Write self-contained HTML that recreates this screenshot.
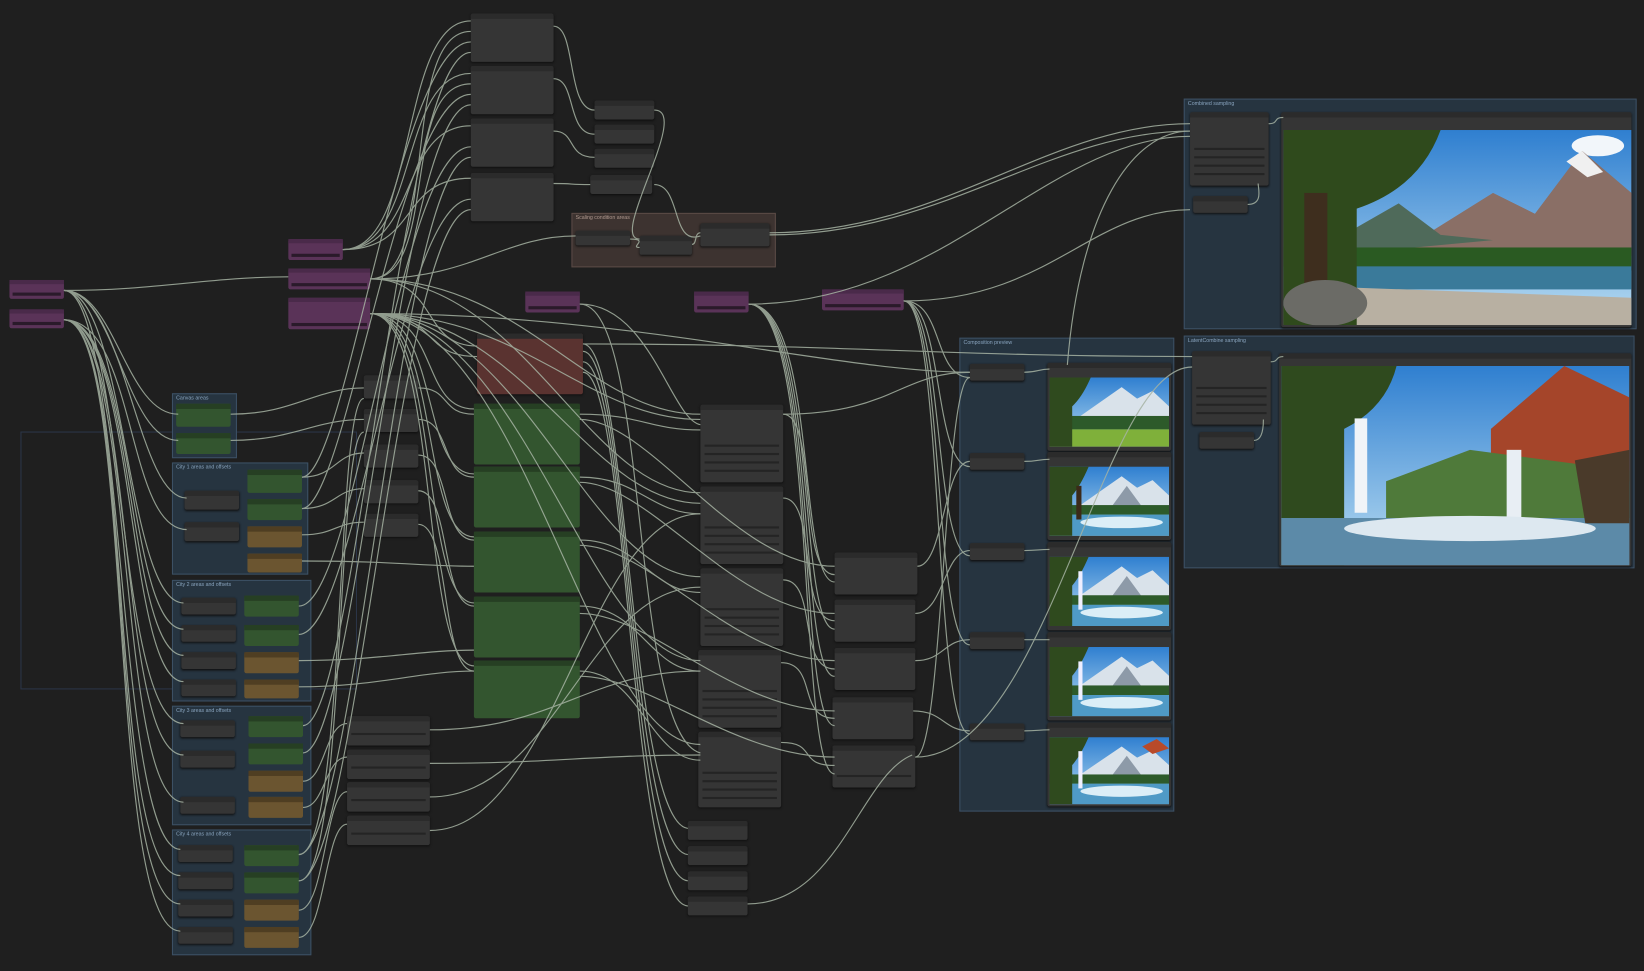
<!DOCTYPE html>
<html><head><meta charset="utf-8"><style>
html,body{margin:0;padding:0;background:#1f1f1f;overflow:hidden;width:1644px;height:971px}
#w{position:absolute;left:0;top:0;width:1568px;height:926px;transform:scale(1.04847,1.0486);transform-origin:0 0;font-family:"Liberation Sans",sans-serif}
.g{position:absolute;background:#263440;border:1px solid #3c5064;box-sizing:border-box}
.g span{position:absolute;left:3px;top:1px;font-size:5px;color:#8aa5bf}
.n{position:absolute;background:#353535;border-radius:2px;box-shadow:0 1px 2px #111}
.n:before{content:"";position:absolute;left:0;right:0;top:0;height:5px;background:#2b2b2b;border-radius:2px 2px 0 0}
.p{position:absolute;background:#5a3358;border-radius:2px}
.p:before{content:"";position:absolute;left:0;right:0;top:0;height:4px;background:#4a2a4a}
.p:after{content:"";position:absolute;left:3px;right:3px;bottom:3px;height:3px;background:#2a1a2a}
.gr{position:absolute;background:#33552f;border-radius:2px}
.gr:before{content:"";position:absolute;left:0;right:0;top:0;height:5px;background:#263f23}
.tn{position:absolute;background:#6b5530;border-radius:2px}
.tn:before{content:"";position:absolute;left:0;right:0;top:0;height:5px;background:#4f3e22}
.st{position:absolute;left:4px;right:4px;height:2px;background:#242424}
svg{position:absolute;left:0;top:0}
</style></head><body><div id="w">
<svg width="1568" height="926"><rect x="20" y="412" width="320" height="245" fill="none" stroke="#2b3548" stroke-width="1"/></svg>
<div class="g" style="left:1129px;top:94px;width:432px;height:220px"><span>Combined sampling</span></div>
<div class="g" style="left:1129px;top:320px;width:430px;height:222px"><span>LatentCombine sampling</span></div>
<div class="g" style="left:915px;top:322px;width:205px;height:452px"><span>Composition preview</span></div>
<div class="g" style="left:545px;top:203px;width:195px;height:52px;background:#3d3330;border-color:#5a4a45"><span style="color:#b09a90">Scaling condition areas</span></div>
<div class="g" style="left:164px;top:375px;width:62px;height:62px"><span>Canvas areas</span></div>
<div class="g" style="left:164px;top:441px;width:130px;height:107px"><span>City 1 areas and offsets</span></div>
<div class="g" style="left:164px;top:553px;width:133px;height:116px"><span>City 2 areas and offsets</span></div>
<div class="g" style="left:164px;top:673px;width:133px;height:114px"><span>City 3 areas and offsets</span></div>
<div class="g" style="left:164px;top:791px;width:133px;height:120px"><span>City 4 areas and offsets</span></div>

<div class="n" style="left:449px;top:13px;width:79px;height:46px"></div>
<div class="n" style="left:449px;top:63px;width:79px;height:46px"></div>
<div class="n" style="left:449px;top:113px;width:79px;height:46px"></div>
<div class="n" style="left:449px;top:165px;width:79px;height:46px"></div>
<div class="n" style="left:567px;top:96px;width:57px;height:18px"></div>
<div class="n" style="left:567px;top:119px;width:57px;height:18px"></div>
<div class="n" style="left:567px;top:142px;width:57px;height:18px"></div>
<div class="n" style="left:563px;top:167px;width:59px;height:18px"></div>
<div class="n" style="left:549px;top:220px;width:52px;height:14px"></div>
<div class="n" style="left:610px;top:225px;width:50px;height:18px"></div>
<div class="n" style="left:668px;top:213px;width:66px;height:22px"></div>

<div class="p" style="left:9px;top:267px;width:52px;height:18px"></div>
<div class="p" style="left:9px;top:295px;width:52px;height:18px"></div>
<div class="p" style="left:275px;top:228px;width:52px;height:20px"></div>
<div class="p" style="left:275px;top:256px;width:78px;height:20px"></div>
<div class="p" style="left:275px;top:284px;width:78px;height:30px"></div>
<div class="p" style="left:501px;top:278px;width:52px;height:20px"></div>
<div class="p" style="left:662px;top:278px;width:52px;height:20px"></div>
<div class="p" style="left:784px;top:276px;width:78px;height:20px"></div>

<div class="n" style="left:455px;top:318px;width:101px;height:58px;background:#5a3330"></div>
<div class="gr" style="left:452px;top:385px;width:101px;height:58px"></div>
<div class="gr" style="left:452px;top:445px;width:101px;height:58px"></div>
<div class="gr" style="left:452px;top:507px;width:101px;height:58px"></div>
<div class="gr" style="left:452px;top:569px;width:101px;height:58px"></div>
<div class="gr" style="left:452px;top:630px;width:101px;height:55px"></div>

<div class="n" style="left:347px;top:358px;width:52px;height:22px"></div>
<div class="n" style="left:347px;top:390px;width:52px;height:22px"></div>
<div class="n" style="left:347px;top:424px;width:52px;height:22px"></div>
<div class="n" style="left:347px;top:458px;width:52px;height:22px"></div>
<div class="n" style="left:347px;top:490px;width:52px;height:22px"></div>

<div class="n" style="left:331px;top:683px;width:79px;height:28px"><div class="st" style="top:16px"></div></div>
<div class="n" style="left:331px;top:715px;width:79px;height:28px"><div class="st" style="top:16px"></div></div>
<div class="n" style="left:331px;top:746px;width:79px;height:28px"><div class="st" style="top:16px"></div></div>
<div class="n" style="left:331px;top:778px;width:79px;height:28px"><div class="st" style="top:16px"></div></div>

<div class="n" style="left:668px;top:386px;width:79px;height:74px"><div class="st" style="top:38px"></div><div class="st" style="top:46px"></div><div class="st" style="top:54px"></div><div class="st" style="top:62px"></div></div>
<div class="n" style="left:668px;top:464px;width:79px;height:74px"><div class="st" style="top:38px"></div><div class="st" style="top:46px"></div><div class="st" style="top:54px"></div><div class="st" style="top:62px"></div></div>
<div class="n" style="left:668px;top:542px;width:79px;height:74px"><div class="st" style="top:38px"></div><div class="st" style="top:46px"></div><div class="st" style="top:54px"></div><div class="st" style="top:62px"></div></div>
<div class="n" style="left:666px;top:620px;width:79px;height:74px"><div class="st" style="top:38px"></div><div class="st" style="top:46px"></div><div class="st" style="top:54px"></div><div class="st" style="top:62px"></div></div>
<div class="n" style="left:666px;top:698px;width:79px;height:72px"><div class="st" style="top:38px"></div><div class="st" style="top:46px"></div><div class="st" style="top:54px"></div><div class="st" style="top:62px"></div></div>

<div class="n" style="left:796px;top:527px;width:79px;height:40px"></div>
<div class="n" style="left:796px;top:572px;width:77px;height:40px"></div>
<div class="n" style="left:796px;top:618px;width:77px;height:40px"></div>
<div class="n" style="left:794px;top:665px;width:77px;height:40px"></div>
<div class="n" style="left:794px;top:711px;width:79px;height:40px"><div class="st" style="top:28px"></div></div>

<div class="n" style="left:656px;top:783px;width:57px;height:18px"></div>
<div class="n" style="left:656px;top:807px;width:57px;height:18px"></div>
<div class="n" style="left:656px;top:831px;width:57px;height:18px"></div>
<div class="n" style="left:656px;top:855px;width:57px;height:18px"></div>

<div class="gr" style="left:168px;top:385px;width:52px;height:22px"></div>
<div class="gr" style="left:168px;top:413px;width:52px;height:20px"></div>
<div class="n" style="left:176px;top:468px;width:52px;height:18px"></div>
<div class="n" style="left:176px;top:498px;width:52px;height:18px"></div>
<div class="gr" style="left:236px;top:448px;width:52px;height:22px"></div>
<div class="gr" style="left:236px;top:476px;width:52px;height:20px"></div>
<div class="tn" style="left:236px;top:502px;width:52px;height:20px"></div>
<div class="tn" style="left:236px;top:528px;width:52px;height:18px"></div>
<div class="n" style="left:173px;top:570px;width:52px;height:16px"></div>
<div class="n" style="left:173px;top:596px;width:52px;height:16px"></div>
<div class="n" style="left:173px;top:622px;width:52px;height:16px"></div>
<div class="n" style="left:173px;top:648px;width:52px;height:16px"></div>
<div class="gr" style="left:233px;top:568px;width:52px;height:20px"></div>
<div class="gr" style="left:233px;top:596px;width:52px;height:20px"></div>
<div class="tn" style="left:233px;top:622px;width:52px;height:20px"></div>
<div class="tn" style="left:233px;top:648px;width:52px;height:18px"></div>
<div class="n" style="left:172px;top:687px;width:52px;height:16px"></div>
<div class="n" style="left:172px;top:716px;width:52px;height:16px"></div>
<div class="n" style="left:172px;top:760px;width:52px;height:16px"></div>
<div class="gr" style="left:237px;top:683px;width:52px;height:20px"></div>
<div class="gr" style="left:237px;top:709px;width:52px;height:20px"></div>
<div class="tn" style="left:237px;top:735px;width:52px;height:20px"></div>
<div class="tn" style="left:237px;top:760px;width:52px;height:20px"></div>
<div class="n" style="left:170px;top:806px;width:52px;height:16px"></div>
<div class="n" style="left:170px;top:832px;width:52px;height:16px"></div>
<div class="n" style="left:170px;top:858px;width:52px;height:16px"></div>
<div class="n" style="left:170px;top:884px;width:52px;height:16px"></div>
<div class="gr" style="left:233px;top:806px;width:52px;height:20px"></div>
<div class="gr" style="left:233px;top:832px;width:52px;height:20px"></div>
<div class="tn" style="left:233px;top:858px;width:52px;height:20px"></div>
<div class="tn" style="left:233px;top:884px;width:52px;height:20px"></div>

<div class="n" style="left:925px;top:347px;width:52px;height:16px"></div>
<div class="n" style="left:925px;top:432px;width:52px;height:16px"></div>
<div class="n" style="left:925px;top:518px;width:52px;height:16px"></div>
<div class="n" style="left:925px;top:603px;width:52px;height:16px"></div>
<div class="n" style="left:925px;top:690px;width:52px;height:16px"></div>
<div class="n" style="left:999px;top:346px;width:118px;height:84px"></div>
<div class="n" style="left:999px;top:431px;width:118px;height:84px"></div>
<div class="n" style="left:999px;top:517px;width:118px;height:84px"></div>
<div class="n" style="left:999px;top:603px;width:118px;height:84px"></div>
<div class="n" style="left:999px;top:689px;width:118px;height:80px"></div>

<div class="n" style="left:1135px;top:107px;width:75px;height:70px"><div class="st" style="top:34px"></div><div class="st" style="top:42px"></div><div class="st" style="top:50px"></div><div class="st" style="top:58px"></div></div>
<div class="n" style="left:1138px;top:187px;width:52px;height:16px"></div>
<div class="n" style="left:1222px;top:107px;width:334px;height:205px"></div>
<div class="n" style="left:1137px;top:335px;width:75px;height:70px"><div class="st" style="top:34px"></div><div class="st" style="top:42px"></div><div class="st" style="top:50px"></div><div class="st" style="top:58px"></div></div>
<div class="n" style="left:1144px;top:412px;width:52px;height:16px"></div>
<div class="n" style="left:1220px;top:337px;width:336px;height:203px"></div>

<svg width="1568" height="926">
<defs>
<linearGradient id="sky" x1="0" y1="0" x2="0" y2="1"><stop offset="0" stop-color="#2f7fd0"/><stop offset="1" stop-color="#b8dcf2"/></linearGradient>
<symbol id="ls" viewBox="0 0 116 72">
<rect width="116" height="72" fill="url(#sky)"/>
<polygon points="30,40 70,10 85,22 100,14 116,30 116,45 30,45" fill="#d9e2ea"/>
<polygon points="60,42 75,20 90,42" fill="#8d9aa8"/>
<rect y="40" width="116" height="10" fill="#2d5a2a"/>
<rect y="50" width="116" height="22" fill="#4f9ac6"/>
<ellipse cx="70" cy="58" rx="40" ry="6" fill="#dbeef7"/>
<path d="M0,0 H38 Q30,20 22,30 V72 H0Z" fill="#2f4a1e"/>
</symbol>
<symbol id="ls1" viewBox="0 0 116 72">
<rect width="116" height="72" fill="url(#sky)"/>
<polygon points="30,40 70,10 85,22 100,14 116,30 116,45 30,45" fill="#d9e2ea"/>
<rect y="40" width="116" height="14" fill="#2d5a2a"/>
<rect y="54" width="116" height="18" fill="#7fb03a"/>
<path d="M0,0 H40 Q32,20 22,30 V72 H0Z" fill="#2f4a1e"/>
</symbol>
</defs>
<svg x="1001" y="360" width="114" height="66" viewBox="0 0 116 72" preserveAspectRatio="none"><use href="#ls1"/></svg>
<svg x="1001" y="445" width="114" height="66" viewBox="0 0 116 72" preserveAspectRatio="none"><use href="#ls"/><rect x="26" y="20" width="5" height="35" fill="#3b2a1a"/></svg>
<svg x="1001" y="531" width="114" height="66" viewBox="0 0 116 72" preserveAspectRatio="none"><use href="#ls"/><rect x="28" y="15" width="4" height="40" fill="#eef"/></svg>
<svg x="1001" y="617" width="114" height="66" viewBox="0 0 116 72" preserveAspectRatio="none"><use href="#ls"/><rect x="28" y="15" width="4" height="40" fill="#eef"/></svg>
<svg x="1001" y="703" width="114" height="64" viewBox="0 0 116 72" preserveAspectRatio="none"><use href="#ls"/><rect x="28" y="15" width="4" height="40" fill="#eef"/><polygon points="90,10 104,2 116,12 100,18" fill="#b84a2a"/></svg>
<svg x="1224" y="124" width="332" height="186" viewBox="0 0 332 186" preserveAspectRatio="none">
<rect width="332" height="186" fill="url(#sky)"/>
<ellipse cx="300" cy="15" rx="25" ry="10" fill="#f2f6fa"/>
<polygon points="120,110 200,60 240,80 285,20 332,60 332120 120,120" fill="#8a6f66"/>
<polygon points="120,110 200,60 240,80 285,20 332,60 332,120 120,120" fill="#8a6f66"/>
<polygon points="270,30 285,20 305,40 290,45" fill="#f0f0f0"/>
<polygon points="40,110 110,70 150,100 200,105 40,120" fill="#4f6a5a"/>
<rect y="112" width="332" height="22" fill="#2a5a22"/>
<rect y="130" width="332" height="22" fill="#3a7a9a"/>
<polygon points="60,150 332,160 332,186 60,186" fill="#b8b0a2"/>
<path d="M0,0 H150 Q130,55 70,75 V186 H0Z" fill="#2f4a1c"/>
<rect x="20" y="60" width="22" height="110" fill="#3e2e1e"/>
<ellipse cx="40" cy="165" rx="40" ry="22" fill="#6b6b66"/>
</svg>
<svg x="1222" y="349" width="332" height="190" viewBox="0 0 332 190" preserveAspectRatio="none">
<rect width="332" height="190" fill="url(#sky)"/>
<polygon points="200,60 270,0 332,30 332,110 200,110" fill="#a5452a"/>
<polygon points="100,110 180,80 332,100 332,150 100,150" fill="#4f7a3a"/>
<path d="M0,0 H110 Q100,40 60,60 V190 H0Z" fill="#2f4a1e"/>
<rect x="70" y="50" width="12" height="90" fill="#f0f4f8"/>
<rect x="215" y="80" width="14" height="70" fill="#e8eef4"/>
<rect y="145" width="332" height="45" fill="#5c8aa8"/>
<ellipse cx="180" cy="155" rx="120" ry="12" fill="#dde8f0"/>
<polygon points="280,90 332,80 332,150 290,150" fill="#4a3a2a"/>
</svg>

<g fill="none" stroke="#a6b3a3" stroke-width="1.1" opacity="0.85">
<path d="M61,277 C150,277 200,264 275,264"/>
<path d="M61,277 C110,277 120,395 170,395"/>
<path d="M61,277 C110,277 120,420 170,420"/>
<path d="M61,277 C120,277 130,475 178,475"/>
<path d="M61,277 C120,277 120,575 175,575"/>
<path d="M61,277 C120,277 110,690 175,690"/>
<path d="M61,277 C120,277 110,810 172,810"/>
<path d="M61,305 C130,305 120,505 178,505"/>
<path d="M61,305 C130,305 120,600 175,600"/>
<path d="M61,305 C130,305 120,625 175,625"/>
<path d="M61,305 C130,305 120,650 175,650"/>
<path d="M61,305 C130,305 110,720 175,720"/>
<path d="M61,305 C130,305 110,765 175,765"/>
<path d="M61,305 C130,305 100,835 172,835"/>
<path d="M61,305 C130,305 100,862 172,862"/>
<path d="M61,305 C130,305 100,888 172,888"/>
<path d="M327,238 C400,238 380,20 449,20"/>
<path d="M327,238 C400,238 380,70 449,70"/>
<path d="M327,238 C400,238 380,120 449,120"/>
<path d="M327,238 C400,238 380,170 449,170"/>
<path d="M353,266 C420,266 380,30 449,30"/>
<path d="M353,266 C420,266 380,80 449,80"/>
<path d="M353,266 C420,266 400,330 455,330"/>
<path d="M353,266 C500,266 560,395 668,395"/>
<path d="M353,266 C500,266 560,470 668,470"/>
<path d="M353,266 C450,266 480,225 549,225"/>
<path d="M353,299 C420,299 400,340 455,340"/>
<path d="M353,299 C500,299 560,400 668,400"/>
<path d="M353,299 C500,299 560,480 668,480"/>
<path d="M353,299 C500,299 560,550 668,550"/>
<path d="M353,299 C500,299 560,630 668,630"/>
<path d="M353,299 C500,299 560,710 668,710"/>
<path d="M353,299 C600,299 800,355 925,355"/>
<path d="M353,299 C420,299 400,390 452,390"/>
<path d="M353,299 C420,299 400,452 452,452"/>
<path d="M353,299 C420,299 400,512 452,512"/>
<path d="M353,299 C420,299 400,575 452,575"/>
<path d="M353,299 C420,299 400,635 452,635"/>
<path d="M220,395 C280,395 300,370 347,370"/>
<path d="M220,420 C280,420 300,400 347,400"/>
<path d="M288,455 C330,455 380,40 449,40"/>
<path d="M288,485 C330,485 380,90 449,90"/>
<path d="M288,455 C320,455 320,432 347,432"/>
<path d="M288,485 C320,485 320,466 347,466"/>
<path d="M288,510 C320,510 320,498 347,498"/>
<path d="M288,535 C380,535 400,540 452,540"/>
<path d="M285,578 C340,578 380,140 449,140"/>
<path d="M285,605 C340,605 380,190 449,190"/>
<path d="M285,630 C360,630 400,620 452,620"/>
<path d="M285,655 C360,655 400,640 452,640"/>
<path d="M289,692 C340,692 380,50 449,50"/>
<path d="M289,718 C340,718 380,100 449,100"/>
<path d="M289,745 C310,745 310,690 331,690"/>
<path d="M289,770 C310,770 310,722 331,722"/>
<path d="M285,815 C340,815 380,150 449,150"/>
<path d="M285,840 C340,840 380,200 449,200"/>
<path d="M285,868 C310,868 310,755 331,755"/>
<path d="M285,894 C310,894 310,786 331,786"/>
<path d="M285,815 C330,815 320,380 347,380"/>
<path d="M285,840 C330,840 320,412 347,412"/>
<path d="M399,370 C430,370 420,395 452,395"/>
<path d="M399,400 C430,400 420,455 452,455"/>
<path d="M399,434 C430,434 420,515 452,515"/>
<path d="M399,468 C430,468 420,578 452,578"/>
<path d="M399,500 C430,500 420,640 452,640"/>
<path d="M410,696 C530,696 560,640 668,640"/>
<path d="M410,728 C530,728 560,720 668,720"/>
<path d="M410,760 C530,760 560,560 668,560"/>
<path d="M410,792 C530,792 560,490 668,490"/>
<path d="M528,25 C550,25 540,105 567,105"/>
<path d="M528,75 C550,75 540,128 567,128"/>
<path d="M528,125 C550,125 540,150 567,150"/>
<path d="M528,175 C550,175 540,176 563,176"/>
<path d="M624,105 C660,105 580,228 610,228"/>
<path d="M624,176 C650,176 640,235 668,225"/>
<path d="M601,228 C620,228 600,236 610,236"/>
<path d="M660,233 C665,233 662,222 668,222"/>
<path d="M734,222 C900,222 1000,118 1135,118"/>
<path d="M734,224 C900,224 1000,125 1135,125"/>
<path d="M714,290 C900,290 1000,130 1135,130"/>
<path d="M862,287 C1000,287 1040,200 1135,200"/>
<path d="M556,328 C800,328 900,340 1137,340"/>
<path d="M553,290 C620,290 640,400 668,405"/>
<path d="M553,290 C620,290 600,700 668,718"/>
<path d="M556,328 C600,328 600,783 656,790"/>
<path d="M556,335 C600,335 600,810 656,815"/>
<path d="M556,345 C600,345 600,835 656,840"/>
<path d="M556,355 C600,355 600,860 656,864"/>
<path d="M553,395 C610,395 620,410 668,410"/>
<path d="M553,455 C610,455 620,490 668,490"/>
<path d="M553,515 C610,515 620,565 668,565"/>
<path d="M553,578 C610,578 620,640 668,640"/>
<path d="M553,640 C610,640 620,725 668,725"/>
<path d="M553,400 C620,400 700,540 796,540"/>
<path d="M553,460 C620,460 700,585 796,585"/>
<path d="M553,520 C620,520 700,630 796,630"/>
<path d="M553,585 C620,585 700,678 796,678"/>
<path d="M553,645 C620,645 700,722 796,722"/>
<path d="M747,395 C780,395 760,548 796,548"/>
<path d="M747,475 C780,475 760,592 796,592"/>
<path d="M747,553 C780,553 760,638 796,638"/>
<path d="M745,632 C780,632 760,685 796,685"/>
<path d="M745,708 C780,708 760,730 796,730"/>
<path d="M747,395 C850,395 860,355 925,355"/>
<path d="M714,290 C780,290 760,555 796,555"/>
<path d="M714,290 C780,290 760,600 796,600"/>
<path d="M714,290 C780,290 760,645 796,645"/>
<path d="M714,290 C780,290 760,692 796,692"/>
<path d="M714,290 C780,290 760,738 796,738"/>
<path d="M875,540 C900,540 900,440 925,440"/>
<path d="M873,585 C900,585 900,525 925,525"/>
<path d="M873,630 C900,630 900,610 925,610"/>
<path d="M871,678 C900,678 900,697 925,697"/>
<path d="M873,722 C900,722 900,360 925,360"/>
<path d="M862,287 C900,287 890,360 925,360"/>
<path d="M862,287 C900,287 890,445 925,445"/>
<path d="M862,287 C900,287 890,530 925,530"/>
<path d="M862,287 C900,287 890,615 925,615"/>
<path d="M862,287 C900,287 890,700 925,700"/>
<path d="M977,355 C990,355 990,352 1001,352"/>
<path d="M977,440 C990,440 990,438 1001,438"/>
<path d="M977,525 C990,525 990,524 1001,524"/>
<path d="M977,610 C990,610 990,610 1001,610"/>
<path d="M977,697 C990,697 990,696 1001,696"/>
<path d="M1018,348 C1030,200 1080,125 1135,125"/>
<path d="M713,862 C800,862 820,740 870,720"/>
<path d="M1210,118 C1220,118 1214,112 1224,112"/>
<path d="M1190,195 C1205,195 1200,180 1200,175"/>
<path d="M1212,345 C1220,345 1216,340 1224,340"/>
<path d="M1196,420 C1205,420 1205,405 1205,400"/>
<path d="M873,722 C1000,722 1050,350 1137,350"/>
</g>
</svg>
</div></body></html>
